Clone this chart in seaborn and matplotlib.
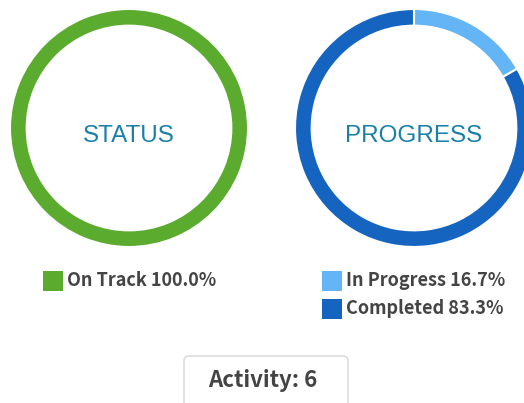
import matplotlib
matplotlib.use("Agg")
import matplotlib.pyplot as plt
import seaborn as sns
from matplotlib.patches import FancyBboxPatch, Rectangle

sns.set_theme(style="white")
plt.rcParams['font.family'] = ['Noto Sans CJK SC', 'DejaVu Sans']

status_labels = ["On Track"]
status_values = [100.0]
status_colors = ["#5aab2e"]

progress_labels = ["In Progress", "Completed"]
progress_values = [16.7, 83.3]
progress_colors = ["#64b5f6", "#1565c0"]

activity_count = 6

W, H = 524, 403
fig = plt.figure(figsize=(W / 100, H / 100), dpi=100)
fig.patch.set_facecolor("white")


def px_axes(x0, y0, w, h):
    return fig.add_axes([x0 / W, 1 - (y0 + h) / H, w / W, h / H])


def donut(ax, values, colors, title):
    ax.pie(values, colors=colors, startangle=90, counterclock=False,
           radius=1.0,
           wedgeprops=dict(width=0.14, edgecolor="white", linewidth=1.5))
    ax.set_xlim(-1, 1)
    ax.set_ylim(-1, 1)
    ax.set_aspect("equal")
    ax.axis("off")
    ax.text(0, -0.065, title, ha="center", va="center", fontsize=17.5,
            color="#1a80a8", family=["Liberation Sans", "DejaVu Sans"])


ax1 = px_axes(10, 9, 238, 238)
donut(ax1, status_values, status_colors, "STATUS")
ax2 = px_axes(295, 9, 238, 238)
donut(ax2, progress_values, progress_colors, "PROGRESS")

# legends
lax = fig.add_axes([0, 0, 1, 1])
lax.set_xlim(0, W)
lax.set_ylim(H, 0)
lax.axis("off")


def legend_entry(x, y, color, text):
    lax.add_patch(Rectangle((x, y), 20, 20, facecolor=color, edgecolor="none"))
    lax.text(x + 24, y + 10, text, ha="left", va="center", fontsize=13,
             fontweight="bold", color="#444444")


for i, (lab, val) in enumerate(zip(status_labels, status_values)):
    legend_entry(43, 271 + i * 28, status_colors[i], f"{lab} {val:.1f}%")
for i, (lab, val) in enumerate(zip(progress_labels, progress_values)):
    legend_entry(322, 271 + i * 28, progress_colors[i], f"{lab} {val:.1f}%")

box = FancyBboxPatch((184, 356), 164, 60, boxstyle="round,pad=0,rounding_size=5",
                     facecolor="white", edgecolor="#dddddd", linewidth=1.2)
lax.add_patch(box)
lax.text(263, 380, f"Activity: {activity_count}", ha="center", va="center",
         fontsize=16, fontweight="bold", color="#444444")

fig.savefig("out.png", dpi=100, facecolor="white")
